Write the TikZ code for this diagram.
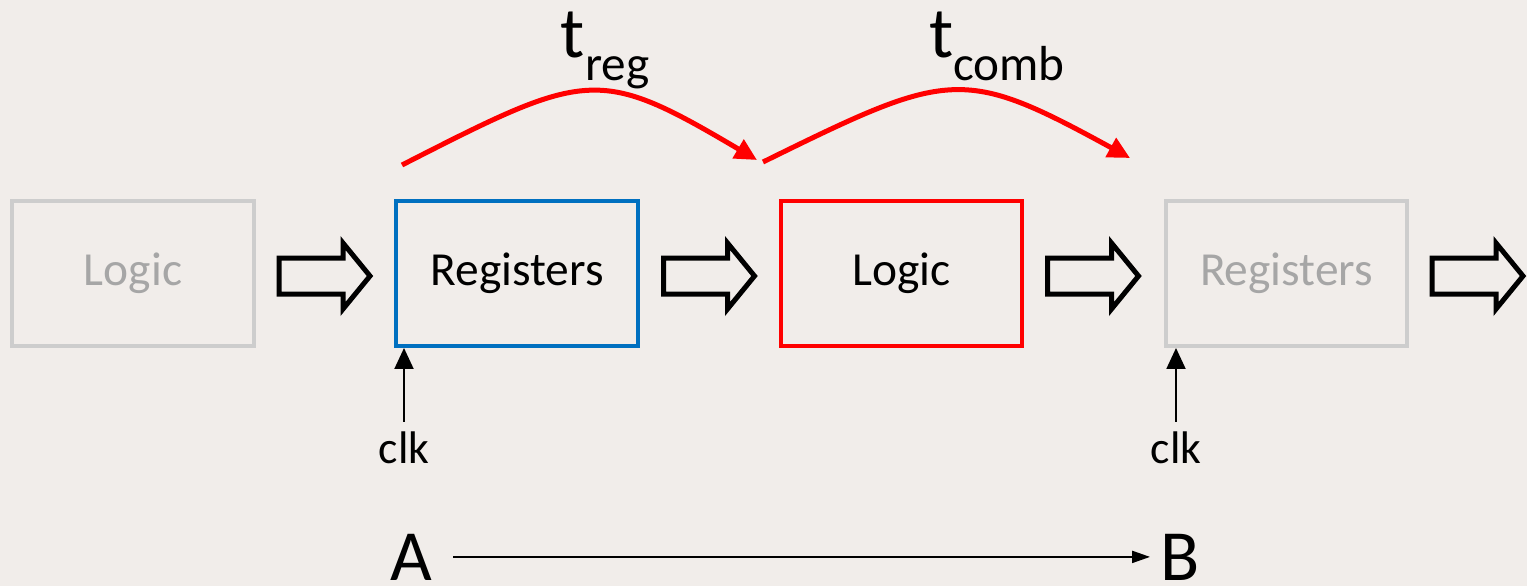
\documentclass[tikz,border=0pt]{standalone}
\usepackage{fontspec}
\setmainfont{Carlito}
\usetikzlibrary{arrows.meta}

\definecolor{bgpaper}{RGB}{241,237,234}
\definecolor{fadebox}{RGB}{205,205,205}
\definecolor{fadetext}{RGB}{166,166,166}
\definecolor{regblue}{RGB}{0,112,192}
\definecolor{logred}{RGB}{255,0,0}

\begin{document}
\begin{tikzpicture}[x=0.02cm, y=-0.02cm]
	\tikzstyle{block} = [rectangle, line width=0.08cm, minimum width=4.84cm, minimum height=2.9cm, font=\fontsize{27}{30}\selectfont]
	\tikzstyle{flow} = [draw=black, line width=0.1cm, line join=miter]
	\tikzstyle{label} = [inner sep=0pt, font=\fontsize{26}{30}\selectfont]
	\tikzstyle{big} = [inner sep=0pt, font=\fontsize{41}{44}\selectfont]
	\tikzstyle{delay} = [draw=logred, line width=0.1cm, -{Triangle[length=0.44cm, width=0.42cm]}]
	\tikzstyle{tick} = [line width=0.04cm, -{Triangle[length=0.42cm, width=0.38cm]}]
	\fill[bgpaper] (0,0) rectangle (1527,586);
	\useasboundingbox (0,0) rectangle (1527,586);
	\node[block, draw=fadebox, text=fadetext] (logic1) at (133, 273.5) {Logic};
	\node[block, draw=regblue] (reg1) at (517, 273.5) {Registers};
	\node[block, draw=logred] (logic2) at (901.5, 273.5) {Logic};
	\node[block, draw=fadebox, text=fadetext] (reg2) at (1286.5, 273.5) {Registers};
	\coordinate (f1) at (325, 276);
	\coordinate (f2) at (709.5, 276);
	\coordinate (f3) at (1093.5, 276);
	\coordinate (f4) at (1478, 276);
	\draw[flow] (f1) ++(-46,-18) -- ++(64,0) -- ++(0,-15) -- ++(27,33) -- ++(-27,33) -- ++(0,-15) -- ++(-64,0) -- cycle;
	\draw[flow] (f2) ++(-46,-18) -- ++(64,0) -- ++(0,-15) -- ++(27,33) -- ++(-27,33) -- ++(0,-15) -- ++(-64,0) -- cycle;
	\draw[flow] (f3) ++(-46,-18) -- ++(64,0) -- ++(0,-15) -- ++(27,33) -- ++(-27,33) -- ++(0,-15) -- ++(-64,0) -- cycle;
	\draw[flow] (f4) ++(-46,-18) -- ++(64,0) -- ++(0,-15) -- ++(27,33) -- ++(-27,33) -- ++(0,-15) -- ++(-64,0) -- cycle;
	\node[label] (clk1) at (404, 448) {clk};
	\node[label] (clk2) at (1176, 448) {clk};
	\draw [tick] ([yshift=0.2cm]clk1.north) -- (reg1.south west -| clk1.north);
	\draw [tick] ([yshift=0.2cm]clk2.north) -- (reg2.south west -| clk2.north);
	\coordinate (r0) at (402, 165);
	\coordinate (r1) at (757, 160);
	\coordinate (r2) at (763, 162);
	\coordinate (r3) at (1130, 158);
	\draw [delay] (r0) .. controls (588, 70) and (598, 66) .. (r1);
	\draw [delay] (r2) .. controls (950, 70) and (962, 66) .. (r3);
	\node[big, anchor=base] (treg) at (605, 57) {t\raisebox{-0.33em}{\fontsize{28}{30}\selectfont reg}};
	\node[big, anchor=base] (tcomb) at (997, 57) {t\raisebox{-0.33em}{\fontsize{28}{30}\selectfont comb}};
	\node[big, anchor=base] (A) at (411, 580) {A};
	\node[big, anchor=base] (B) at (1180, 580) {B};
	\draw [line width=0.04cm, -{Triangle[length=0.36cm, width=0.24cm]}] ([xshift=0.42cm]A.east) -- ([xshift=-0.2cm]B.west);
\end{tikzpicture}
\end{document}
